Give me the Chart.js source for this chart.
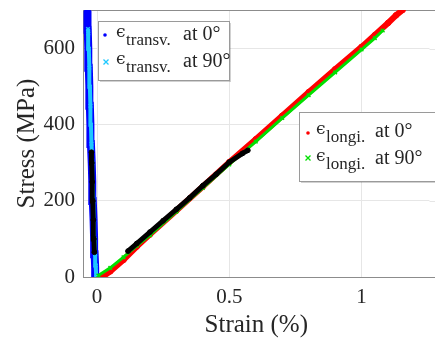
<!DOCTYPE html>
<html>
<head>
<meta charset="utf-8">
<script src="https://cdn.jsdelivr.net/npm/chart.js@4.4.0/dist/chart.umd.min.js"></script>
<style>
  body { margin: 0; background: #fff; }
  #wrap { width: 435px; height: 340px; }
</style>
</head>
<body>
<div id="wrap"><canvas id="myChart"></canvas></div>
<script>
// strain (%), stress (MPa)
const transv0 = [[-0.005,0],[-0.007,25],[-0.009,60],[-0.011,100],[-0.013,150],[-0.016,200],[-0.018,250],[-0.020,300],[-0.023,350],[-0.025,400],[-0.027,450],[-0.029,500],[-0.031,550],[-0.033,600],[-0.035,650],[-0.036,685],[-0.036,700]];
const transv90 = [[-0.003,0],[-0.005,30],[-0.007,60],[-0.009,100],[-0.011,150],[-0.014,200],[-0.016,250],[-0.018,300],[-0.021,350],[-0.023,400],[-0.025,450],[-0.027,500],[-0.029,550],[-0.031,600],[-0.033,640],[-0.034,652]];
const longi0 = [[0.02,0],[0.05,15],[0.1,45],[0.15,80],[0.2,112],[0.3,175],[0.4,238],[0.5,302],[0.6,362],[0.7,424],[0.8,486],[0.9,546],[1.0,605],[1.05,636],[1.1,668],[1.13,688],[1.155,702]];
const longi90 = [[0.005,4],[0.05,24],[0.1,52],[0.15,82],[0.2,110],[0.3,172],[0.4,234],[0.5,296],[0.6,356],[0.7,418],[0.8,478],[0.9,538],[1.0,598],[1.05,628],[1.08,648]];
const blackTransv = [[-0.010,65],[-0.012,100],[-0.014,150],[-0.016,200],[-0.018,250],[-0.020,300],[-0.021,328]];
const blackLongi = [[0.117,68],[0.15,88],[0.2,118],[0.25,148],[0.3,178],[0.35,208],[0.4,240],[0.45,270],[0.5,302],[0.55,325],[0.57,333]];

const xTicks = [0, 0.5, 1];
const yTicks = [0, 200, 400, 600];

const serif = '"Liberation Serif", "Times New Roman", serif';

function pts(arr) {
    return arr.map(p => ({ x: p[0], y: p[1] }));
}

function series(arr, color, style, radius, width, order) {
    return {
        data: pts(arr),
        showLine: true,
        borderColor: color,
        backgroundColor: color,
        borderWidth: width,
        pointStyle: style,
        pointRadius: radius,
        pointBorderWidth: style == 'crossRot' ? 1.5 : 1,
        pointBorderColor: color,
        order: order
    };
}

// MATLAB style legend boxes drawn on the canvas
const legendBoxes = {
    id: 'legendBoxes',
    beforeDatasetsDraw(chart) {
        // grid and top line run on to the right edge of the picture
        const ctx = chart.ctx;
        const a = chart.chartArea;
        const ys = chart.scales.y;
        ctx.save();
        ctx.strokeStyle = '#e6e6e6';
        ctx.lineWidth = 1;
        yTicks.forEach(v => {
            const py = Math.round(ys.getPixelForValue(v)) + 0.5;
            if (v > 0) {
                ctx.beginPath();
                ctx.moveTo(a.right, py);
                ctx.lineTo(chart.width, py);
                ctx.stroke();
            }
        });
        ctx.strokeStyle = '#8c8c8c';
        ctx.beginPath();
        ctx.moveTo(a.left, a.top + 0.5);
        ctx.lineTo(chart.width, a.top + 0.5);
        ctx.moveTo(a.right, a.bottom + 0.5);
        ctx.lineTo(chart.width, a.bottom + 0.5);
        ctx.stroke();
        ctx.restore();
    },
    afterDraw(chart) {
        const ctx = chart.ctx;
        ctx.save();

        function box(x, y, w, h) {
            ctx.fillStyle = 'rgba(0,0,0,0.18)';
            ctx.fillRect(x + 2, y + 2, w, h);
            ctx.fillStyle = '#fff';
            ctx.fillRect(x, y, w, h);
            ctx.strokeStyle = '#9a9a9a';
            ctx.strokeRect(x + 0.5, y + 0.5, w, h);
        }
        function entry(x, base, sub, tail, tailX) {
            ctx.fillStyle = '#262626';
            ctx.textAlign = 'left';
            ctx.textBaseline = 'alphabetic';
            ctx.font = '17px "DejaVu Serif", ' + serif;
            ctx.fillText('\u03f5', x, base - 3);
            ctx.font = '17px ' + serif;
            ctx.fillText(sub, x + 10, base + 5);
            ctx.font = '20px ' + serif;
            ctx.fillText(tail, tailX, base);
        }
        function dot(x, y, c) {
            ctx.fillStyle = c;
            ctx.beginPath();
            ctx.arc(x, y, 1.8, 0, Math.PI * 2);
            ctx.fill();
        }
        function cross(x, y, c) {
            ctx.strokeStyle = c;
            ctx.lineWidth = 1.3;
            ctx.beginPath();
            ctx.moveTo(x - 2.5, y - 2.5); ctx.lineTo(x + 2.5, y + 2.5);
            ctx.moveTo(x + 2.5, y - 2.5); ctx.lineTo(x - 2.5, y + 2.5);
            ctx.stroke();
            ctx.lineWidth = 1;
        }

        box(98, 21, 131, 59);
        dot(105, 35, '#0000ff');
        entry(116, 40, 'transv.', 'at 0\u00b0', 183);
        cross(106, 62, '#1ec8ff');
        entry(116, 67, 'transv.', 'at 90\u00b0', 183);

        box(299, 112, 140, 69);
        dot(308, 133, '#ff0000');
        entry(316, 137, 'longi.', 'at 0\u00b0', 375);
        cross(308, 158, '#00e000');
        entry(316, 164, 'longi.', 'at 90\u00b0', 375);
        ctx.restore();
    }
};

new Chart(document.getElementById('myChart'), {
    type: 'scatter',
    data: {
        datasets: [
            series(blackTransv, '#000000', 'circle', 2.4, 5, 0),
            series(blackLongi, '#000000', 'circle', 2.4, 5, 0),
            series(longi90, '#00e000', 'crossRot', 2.5, 3, 1),
            series(longi0, '#ff0000', 'circle', 2.8, 6, 2),
            series(transv90, '#1ec8ff', 'crossRot', 2.5, 4, 3),
            series(transv0, '#0000ff', 'circle', 3, 8, 4)
        ]
    },
    plugins: [legendBoxes],
    options: {
        responsive: true,
        maintainAspectRatio: false,
        animation: false,
        devicePixelRatio: 1,
        layout: { padding: { top: 10, right: 0, left: 0, bottom: 0 } },
        plugins: {
            legend: { display: false },
            tooltip: { enabled: false }
        },
        scales: {
            x: {
                type: 'linear',
                min: -0.053,
                max: 1.2566,
                afterBuildTicks(scale) { scale.ticks = xTicks.map(v => ({ value: v })); },
                afterFit(scale) {
                    scale.height = 63;
                    scale.paddingLeft = 0;
                    scale.paddingRight = 0;
                },
                grid: { color: '#e6e6e6', drawTicks: false },
                border: { color: '#8c8c8c' },
                ticks: {
                    color: '#262626',
                    padding: 8,
                    maxRotation: 0,
                    font: { family: serif, size: 21 },
                    callback: v => String(v)
                },
                title: {
                    display: true,
                    text: 'Strain (%)',
                    color: '#262626',
                    padding: { top: 0, bottom: 0 },
                    font: { family: serif, size: 25 }
                }
            },
            y: {
                min: 0,
                max: 702,
                afterBuildTicks(scale) { scale.ticks = yTicks.map(v => ({ value: v })); },
                afterFit(scale) {
                    scale.width = 83;
                    scale.paddingTop = 0;
                    scale.paddingBottom = 0;
                },
                grid: { color: '#e6e6e6', drawTicks: false },
                border: { color: '#8c8c8c' },
                ticks: {
                    color: '#262626',
                    padding: 8,
                    font: { family: serif, size: 21 },
                    callback: v => String(v)
                },
                title: {
                    display: true,
                    text: 'Stress (MPa)',
                    color: '#262626',
                    padding: { top: 12, bottom: 2 },
                    font: { family: serif, size: 25 }
                }
            }
        }
    }
});
</script>
</body>
</html>
